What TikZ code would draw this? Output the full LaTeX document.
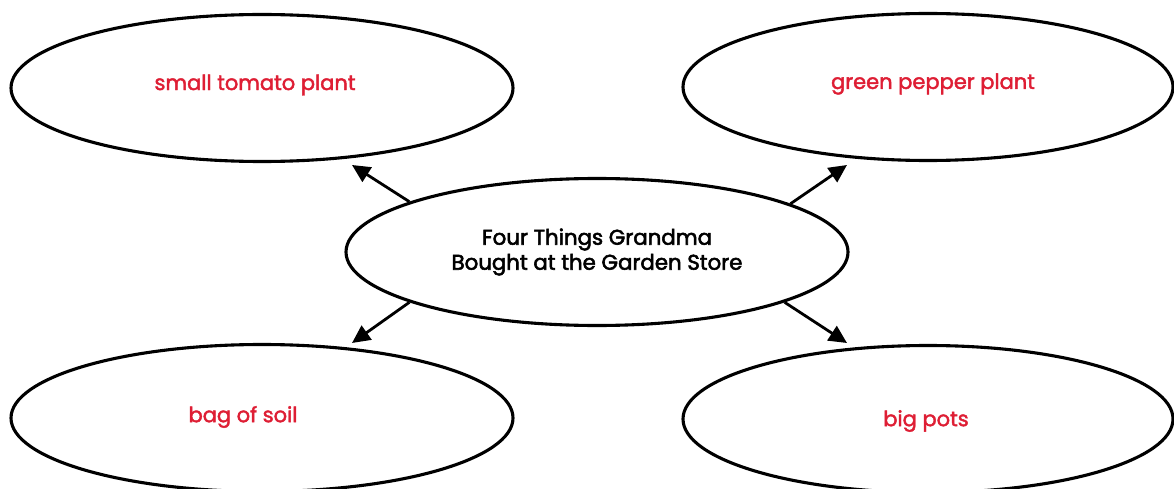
\documentclass[tikz,border=0pt]{standalone}
\usepackage{fontspec}
\setmainfont{Poppins}
\newfontfamily\itemfont[FakeBold=2]{Poppins}
\newfontfamily\titlefont[FakeBold=2.6]{Poppins}
\usetikzlibrary{shapes.geometric,arrows.meta}
\definecolor{itemred}{RGB}{222,30,52}
\tikzset{
  bubble/.style={ellipse, draw=black, line width=3.1pt, inner sep=0pt},
  item/.style={text=itemred, font=\itemfont\fontsize{21}{24}\selectfont},
  arr/.style={line width=2.8pt, -{Triangle[length=18pt,width=17pt]}},
}
\begin{document}
\begin{tikzpicture}[x=1pt,y=-1pt]
\useasboundingbox (0,0) rectangle (1174,489);
\node[bubble, minimum width=502pt, minimum height=147pt] (c) at (597,252) {};
\node[align=center, font=\titlefont\fontsize{21.3}{25}\selectfont] (ct) at (597,252) {Four Things Grandma\\Bought at the Garden Store};
\node[bubble, minimum width=502pt, minimum height=147pt] (tl) at (262,88) {};
\node[bubble, minimum width=490pt, minimum height=147pt] (tr) at (928,87) {};
\node[bubble, minimum width=502pt, minimum height=147pt] (bl) at (262,418) {};
\node[bubble, minimum width=490pt, minimum height=147pt] (br) at (928,419) {};
\node[item] (tlt) at (255,85) {small tomato plant};
\node[item] (trt) at (933,84) {green pepper plant};
\node[item] (blt) at (243,417) {bag of soil};
\node[item] (brt) at (926,421) {big pots};
\coordinate (ptl) at (352,165);
\coordinate (ptr) at (847,165);
\coordinate (pbl) at (352,343);
\coordinate (pbr) at (847,343);
\draw[arr] (c.165.5) -- (ptl);
\draw[arr] (c.14.2) -- (ptr);
\draw[arr] (c.195) -- (pbl);
\draw[arr] (c.345) -- (pbr);
\end{tikzpicture}
\end{document}
